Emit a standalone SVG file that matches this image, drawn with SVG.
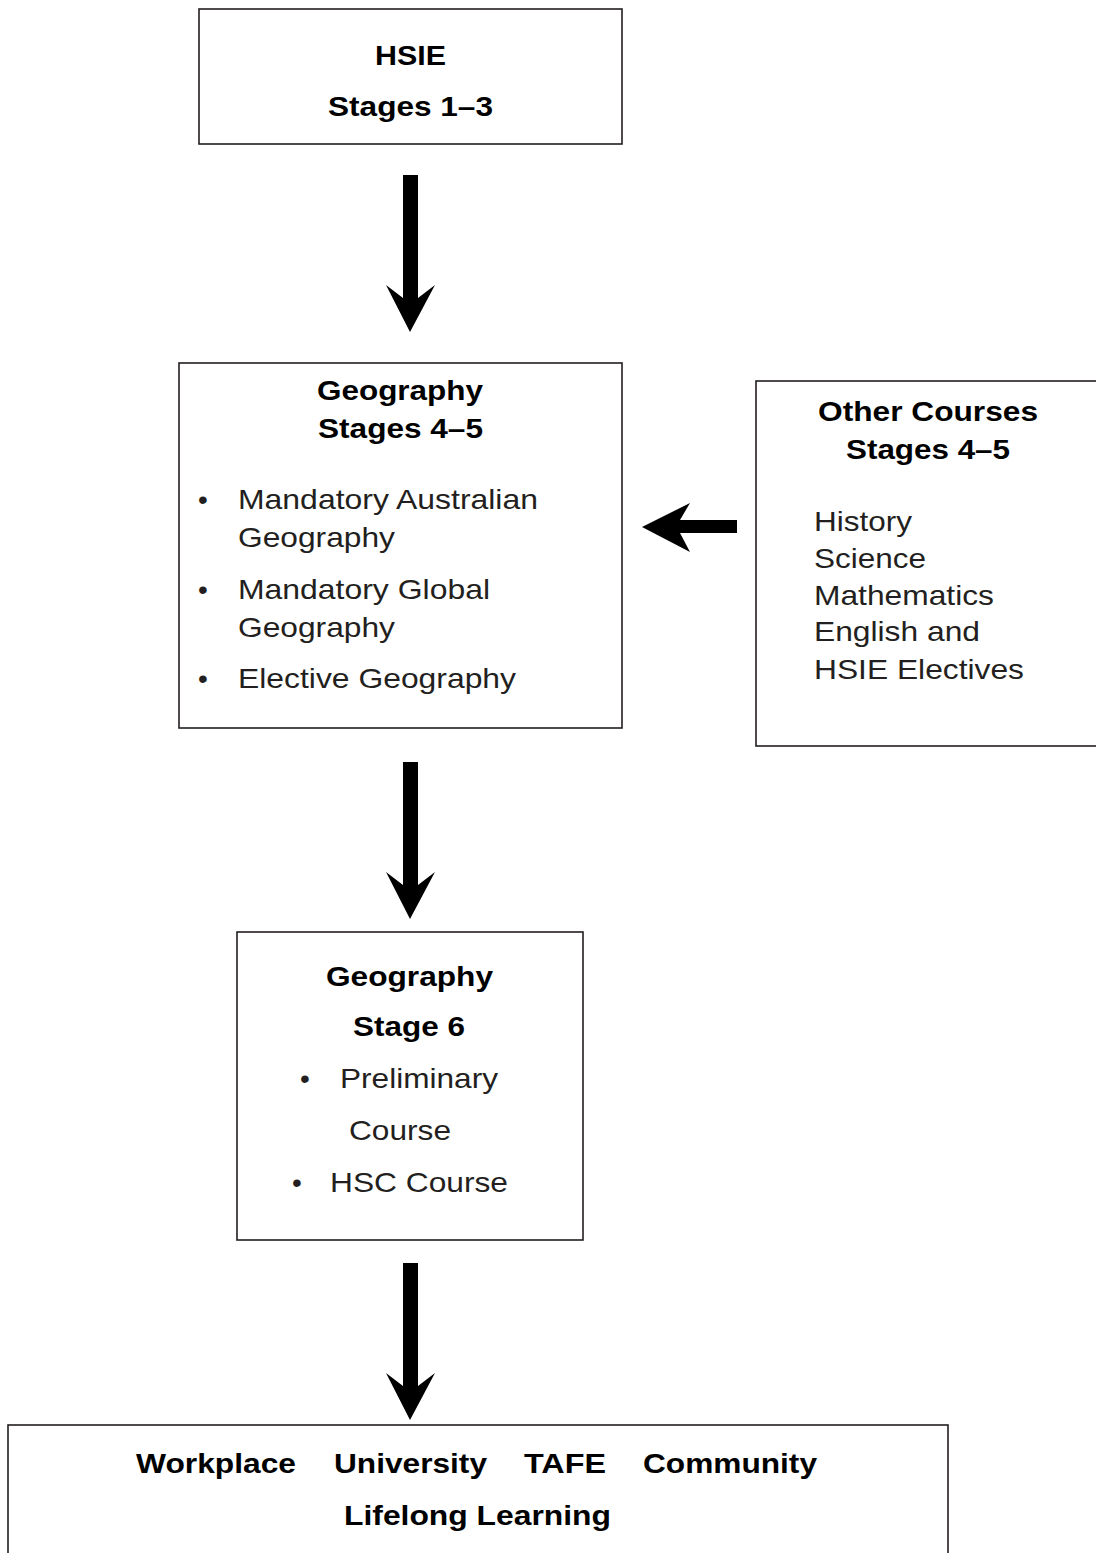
<svg xmlns="http://www.w3.org/2000/svg" width="1096" height="1553" viewBox="0 0 1096 1553">
<style>
.box{fill:#fff;stroke:#231f20;stroke-width:1.6}
.t{font-family:"Liberation Sans",Arial,sans-serif;font-size:28px;fill:#231f20}
.b{font-weight:bold;fill:#000}
.arrow{fill:#000}
</style>
<rect width="1096" height="1553" fill="#fff"/>
<g id="connectors">
<polygon class="arrow" points="403,175 418,175 418,298 435,285 410,332 386,285 403,298"/>
<polygon class="arrow" points="403,762 418,762 418,885 435,872 410,919 386,872 403,885"/>
<polygon class="arrow" points="403,1263 418,1263 418,1386 435,1373 410,1420 386,1373 403,1386"/>
<polygon class="arrow" points="737,520 737,533 680,533 690,552 642,527 690,503 680,520"/>
</g>
<g id="node-hsie">
<rect class="box" x="199" y="9" width="423" height="135"/>
<text class="t b" x="375" y="65" textLength="71" lengthAdjust="spacingAndGlyphs">HSIE</text>
<text class="t b" x="328" y="116" textLength="165" lengthAdjust="spacingAndGlyphs">Stages 1–3</text>
</g>
<g id="node-geo45">
<rect class="box" x="179" y="363" width="443" height="365"/>
<text class="t b" x="317" y="400" textLength="166" lengthAdjust="spacingAndGlyphs">Geography</text>
<text class="t b" x="318" y="438" textLength="165" lengthAdjust="spacingAndGlyphs">Stages 4–5</text>
<text class="t" x="198" y="509">•</text>
<text class="t" x="238" y="509" textLength="300" lengthAdjust="spacingAndGlyphs">Mandatory Australian</text>
<text class="t" x="238" y="547" textLength="157" lengthAdjust="spacingAndGlyphs">Geography</text>
<text class="t" x="198" y="599">•</text>
<text class="t" x="238" y="599" textLength="252" lengthAdjust="spacingAndGlyphs">Mandatory Global</text>
<text class="t" x="238" y="637" textLength="157" lengthAdjust="spacingAndGlyphs">Geography</text>
<text class="t" x="198" y="688">•</text>
<text class="t" x="238" y="688" textLength="278" lengthAdjust="spacingAndGlyphs">Elective Geography</text>
</g>
<g id="node-other">
<rect class="box" x="756" y="381" width="350" height="365"/>
<text class="t b" x="818" y="421" textLength="220" lengthAdjust="spacingAndGlyphs">Other Courses</text>
<text class="t b" x="846" y="459" textLength="164" lengthAdjust="spacingAndGlyphs">Stages 4–5</text>
<text class="t" x="814" y="531" textLength="98" lengthAdjust="spacingAndGlyphs">History</text>
<text class="t" x="814" y="568" textLength="112" lengthAdjust="spacingAndGlyphs">Science</text>
<text class="t" x="814" y="605" textLength="180" lengthAdjust="spacingAndGlyphs">Mathematics</text>
<text class="t" x="814" y="641" textLength="166" lengthAdjust="spacingAndGlyphs">English and</text>
<text class="t" x="814" y="679" textLength="210" lengthAdjust="spacingAndGlyphs">HSIE Electives</text>
</g>
<g id="node-geo6">
<rect class="box" x="237" y="932" width="346" height="308"/>
<text class="t b" x="326" y="986" textLength="167" lengthAdjust="spacingAndGlyphs">Geography</text>
<text class="t b" x="353" y="1036" textLength="112" lengthAdjust="spacingAndGlyphs">Stage 6</text>
<text class="t" x="300" y="1088">•</text>
<text class="t" x="340" y="1088" textLength="158" lengthAdjust="spacingAndGlyphs">Preliminary</text>
<text class="t" x="349" y="1140" textLength="102" lengthAdjust="spacingAndGlyphs">Course</text>
<text class="t" x="292" y="1192">•</text>
<text class="t" x="330" y="1192" textLength="178" lengthAdjust="spacingAndGlyphs">HSC Course</text>
</g>
<g id="node-pathways">
<rect class="box" x="8" y="1425" width="940" height="140"/>
<text class="t b" x="136" y="1473" textLength="160" lengthAdjust="spacingAndGlyphs">Workplace</text>
<text class="t b" x="334" y="1473" textLength="153" lengthAdjust="spacingAndGlyphs">University</text>
<text class="t b" x="524" y="1473" textLength="82" lengthAdjust="spacingAndGlyphs">TAFE</text>
<text class="t b" x="643" y="1473" textLength="174" lengthAdjust="spacingAndGlyphs">Community</text>
<text class="t b" x="344" y="1525" textLength="267" lengthAdjust="spacingAndGlyphs">Lifelong Learning</text>
</g>
</svg>
